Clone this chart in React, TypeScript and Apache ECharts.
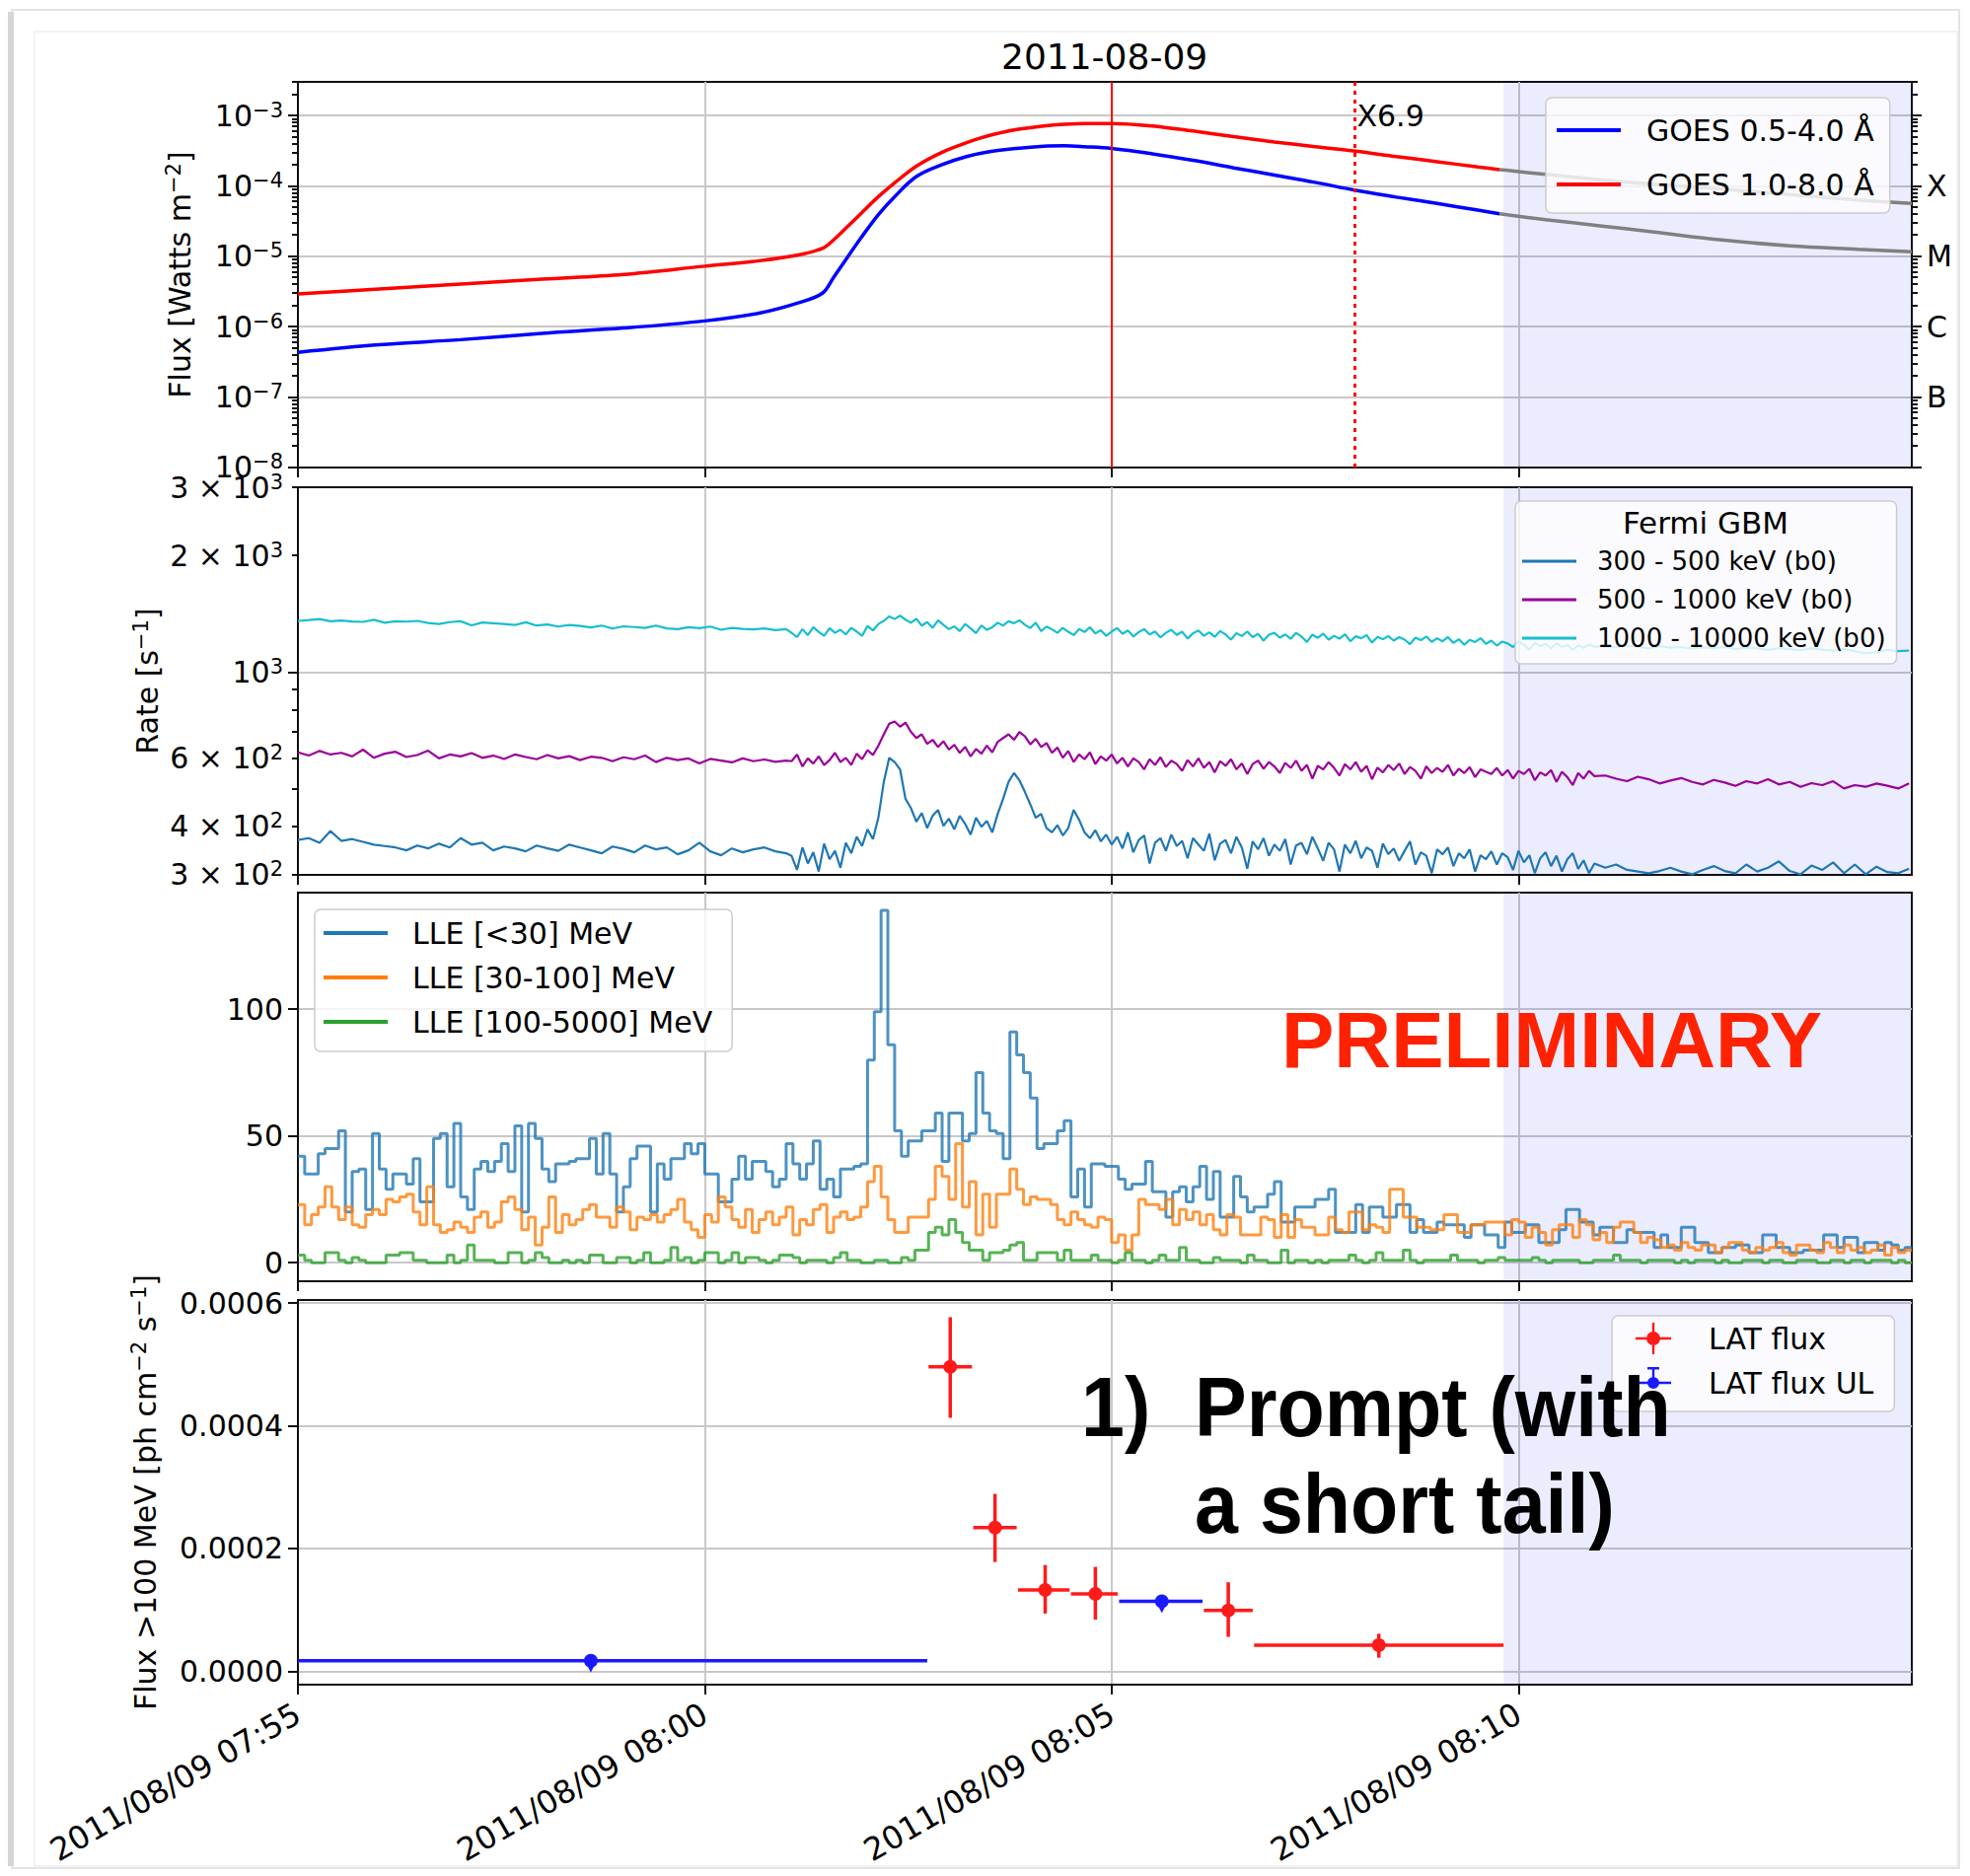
import React, { useEffect, useRef } from 'react';
import * as echarts from 'echarts';

const W = 1997;
const H = 1902;
const FONT = 'DejaVu Sans';
const HEAVY = 'Liberation Sans';

// ---------- time axis: seconds after 2011/08/09 07:55:00 ----------
const T0_MINUTES = 7 * 60 + 55;
const X_MAX = 1190;
const X_TICKS = [0, 300, 600, 900];
const SHADE_FROM = 889;
const FLARE_PEAK_TIME = 600;
const FLARE_CLASS_TIME = 779;
const FLARE_CLASS = 'X6.9';

// ---------- panel 1: GOES X-ray flux (W m^-2) ----------
const goesTimes = [0, 60, 120, 180, 240, 300, 340, 370, 387, 395, 405, 415, 428, 440, 456, 475, 493, 510, 530, 550, 565, 580, 600, 630, 660, 690, 720, 750, 780, 810, 840, 870, 886];
const goesShort = [4.3e-7, 5.5e-7, 6.5e-7, 8.0e-7, 9.5e-7, 1.2e-6, 1.55e-6, 2.2e-6, 3.0e-6, 5.0e-6, 9.5e-6, 1.8e-5, 3.9e-5, 7.0e-5, 1.35e-4, 2.0e-4, 2.6e-4, 3.05e-4, 3.4e-4, 3.65e-4, 3.7e-4, 3.6e-4, 3.4e-4, 2.85e-4, 2.3e-4, 1.8e-4, 1.42e-4, 1.12e-4, 8.6e-5, 6.9e-5, 5.6e-5, 4.5e-5, 4.0e-5];
const goesLong = [2.9e-6, 3.4e-6, 4.0e-6, 4.7e-6, 5.5e-6, 7.2e-6, 8.6e-6, 1.05e-5, 1.3e-5, 1.7e-5, 2.6e-5, 4.0e-5, 7.0e-5, 1.1e-4, 1.9e-4, 3.0e-4, 4.1e-4, 5.2e-4, 6.3e-4, 7.1e-4, 7.5e-4, 7.7e-4, 7.7e-4, 7.1e-4, 6.0e-4, 5.0e-4, 4.2e-4, 3.6e-4, 3.1e-4, 2.6e-4, 2.2e-4, 1.85e-4, 1.7e-4];
const goesTailTimes = [886, 920, 960, 1000, 1050, 1100, 1150, 1190];
const goesShortTail = [4.0e-5, 3.3e-5, 2.7e-5, 2.2e-5, 1.7e-5, 1.4e-5, 1.25e-5, 1.15e-5];
const goesLongTail = [1.7e-4, 1.45e-4, 1.22e-4, 1.05e-4, 9.0e-5, 7.5e-5, 6.3e-5, 5.6e-5];
const goesMajorTicks = [1e-8, 1e-7, 1e-6, 1e-5, 1e-4, 1e-3];
const goesClassTicks = [1e-7, 1e-6, 1e-5, 1e-4];
const goesClassLabels = ['B', 'C', 'M', 'X'];

// ---------- panel 2: Fermi GBM rates (s^-1) ----------
const gbmEarly = { from: 0, to: 360, step: 8 };
const gbmDense = { from: 364, to: 956, step: 4 };
const gbmLate = { from: 964, to: 1188, step: 8 };
const gbmLow = [
  // early
  368, 372, 362, 388, 366, 370, 364, 358, 355, 352, 346, 356, 350, 360, 352, 372, 358, 362, 346, 354,
  350, 344, 356, 350, 345, 358, 352, 346, 340, 354, 349, 342, 356, 348, 352, 338, 346, 362, 344, 336,
  350, 342, 348, 352, 344, 340,
  // dense
  335, 308, 352, 320, 342, 305, 360, 328, 345, 312, 362, 340, 375, 355, 392, 370, 420, 520, 600, 585,
  560, 470, 445, 410, 432, 395, 425, 440, 400, 418, 392, 425, 405, 380, 420, 398, 412, 385, 430, 470,
  520, 548, 525, 490, 455, 420, 430, 395, 385, 402, 378, 395, 440, 415, 385, 372, 390, 365, 380, 358,
  375, 350, 385, 342, 368, 378, 320, 362, 372, 345, 380, 355, 366, 330, 372, 358, 345, 382, 326, 360,
  368, 340, 375, 352, 310, 365, 348, 372, 335, 358, 345, 370, 318, 356, 362, 338, 375, 350, 325, 362,
  348, 305, 358, 340, 366, 330, 352, 345, 312, 360, 338, 350, 325, 345, 365, 318, 342, 335, 302, 348,
  338, 352, 315, 340, 330, 348, 305, 336, 328, 344, 318, 340, 332, 308, 345, 322, 336, 302, 330, 342,
  315, 335, 305, 328, 340, 310, 326, 302, 320,
  // late
  312, 318, 308, 305, 302, 306, 312, 305, 300, 308, 315, 306, 302, 318, 305, 312, 324, 306, 300, 316,
  308, 322, 302, 318, 300, 314, 304, 302, 310,
];
const gbmMid = [
  620, 608, 625, 612, 618, 605, 630, 600, 615, 622, 603, 610, 626, 598, 612, 605, 617, 600, 608, 596,
  612, 603, 595, 610, 598, 606, 592, 604, 600, 588, 602, 595, 608, 585, 600, 592, 598, 580, 596, 590,
  584, 598, 588, 594, 586, 590,
  588, 612, 570, 598, 580, 605, 575, 592, 618, 585, 600, 575, 615, 595, 628, 610, 645, 690, 735, 745,
  722, 740, 700, 675, 690, 652, 668, 640, 662, 630, 648, 618, 640, 605, 632, 615, 645, 620, 660, 675,
  690, 668, 700, 682, 650, 672, 640, 655, 618, 638, 600, 625, 585, 612, 595, 620, 578, 605, 590, 612,
  580, 600, 570, 598, 585, 560, 595, 575, 602, 568, 590, 578, 555, 592, 570, 598, 565, 585, 550, 588,
  572, 595, 560, 580, 545, 578, 590, 562, 585, 570, 548, 582, 565, 590, 555, 575, 530, 572, 560, 585,
  565, 540, 578, 560, 585, 552, 572, 528, 566, 550, 575, 558, 580, 545, 568, 555, 530, 570, 548, 565,
  552, 575, 540, 562, 548, 568, 535, 560, 552, 545, 565, 540, 558, 530, 555, 545, 562, 525, 550, 540,
  558, 520, 552, 535, 510, 548, 530, 555, 538,
  540, 530, 522, 536, 528, 515, 524, 532, 520, 512, 526, 518, 508, 522, 515, 528, 512, 520, 505, 516,
  510, 522, 500, 510, 505, 515, 508, 500, 515,
];
const gbmHigh = [
  1355, 1362, 1370, 1352, 1358, 1350, 1347, 1364, 1340, 1352, 1349, 1355, 1338, 1330, 1345, 1352, 1320, 1342, 1336, 1330,
  1322, 1344, 1318, 1326, 1310, 1322, 1315, 1303, 1318, 1295, 1312, 1306, 1300, 1318, 1296, 1290, 1305, 1298, 1310, 1285,
  1300, 1292, 1288, 1296, 1282, 1290,
  1262, 1230, 1290, 1245, 1305, 1270, 1240, 1298, 1262, 1285, 1250, 1300, 1272, 1240, 1315, 1280, 1330, 1355, 1392, 1370,
  1398, 1365, 1340, 1372, 1318, 1345, 1300, 1360, 1322, 1290, 1312, 1275, 1330, 1296, 1260, 1318, 1285, 1305, 1340, 1318,
  1352, 1336, 1360, 1325, 1298, 1340, 1275, 1310, 1288, 1262, 1300, 1270, 1245, 1292, 1268, 1305, 1258, 1282, 1240, 1272,
  1298, 1255, 1280, 1235, 1268, 1290, 1250, 1272, 1228, 1262, 1285, 1246, 1270, 1220, 1258, 1280, 1240, 1266, 1232, 1275,
  1250, 1212, 1260, 1238, 1272, 1230, 1255, 1205, 1248, 1262, 1226, 1250, 1218, 1262, 1235, 1195, 1248, 1225, 1256, 1212,
  1240, 1218, 1252, 1200, 1236, 1222, 1245, 1190, 1232, 1215, 1238, 1205, 1230, 1212, 1180, 1226, 1208, 1235, 1196, 1222,
  1200, 1230, 1188, 1215, 1176, 1210, 1195, 1222, 1182, 1205, 1170, 1198, 1185, 1160, 1200, 1176, 1142, 1190, 1165, 1182,
  1150, 1186, 1160, 1175, 1140, 1170, 1155, 1178, 1162,
  1165, 1158, 1170, 1162, 1150, 1166, 1155, 1160, 1148, 1157, 1152, 1160, 1145, 1155, 1150, 1140, 1152, 1146, 1138, 1150,
  1142, 1135, 1148, 1130, 1118, 1126, 1140, 1132, 1136,
];
const gbmLabelValues = [300, 400, 600, 1000, 2000, 3000];
const gbmLabelMantissa = ['3 × ', '4 × ', '6 × ', '', '2 × ', '3 × '];
const gbmLabelExponent = ['2', '2', '2', '3', '3', '3'];
const gbmMajorTicks = [1000];
const gbmMinorTicks = [300, 400, 500, 600, 700, 800, 900, 2000, 3000];

// ---------- panel 3: LAT LLE counts, 5 s bins ----------
const lleBinWidth = 5;
const lleLow = [
  42, 35, 35, 43, 45, 45, 52, 20, 36, 37, 21, 51, 37, 29, 35, 35, 31, 41, 24, 24,
  49, 51, 30, 55, 26, 21, 37, 40, 36, 40, 47, 36, 54, 20, 55, 49, 37, 32, 39, 39,
  40, 41, 41, 49, 35, 51, 35, 20, 30, 41, 46, 46, 20, 39, 33, 41, 41, 47, 43, 47,
  35, 35, 24, 24, 33, 42, 33, 40, 40, 36, 30, 33, 47, 39, 33, 39, 48, 29, 33, 26,
  37, 37, 38, 39, 80, 99, 139, 86, 52, 42, 48, 48, 52, 52, 59, 40, 59, 59, 48, 51,
  75, 59, 52, 51, 41, 91, 82, 75, 65, 45, 47, 47, 52, 56, 26, 37, 22, 39, 39, 38,
  38, 33, 29, 31, 31, 40, 28, 28, 18, 28, 30, 24, 30, 38, 25, 36, 18, 18, 34, 26,
  20, 22, 22, 27, 32, 16, 16, 22, 22, 22, 25, 25, 29, 12, 12, 12, 23, 12, 22, 22,
  18, 18, 23, 23, 12, 17, 12, 12, 16, 15, 15, 15, 10, 15, 15, 11, 11, 6, 16, 12,
  12, 15, 15, 8, 8, 8, 13, 21, 21, 16, 16, 11, 14, 14, 8, 8, 13, 12, 12, 12,
  6, 11, 6, 6, 14, 14, 8, 8, 4, 4, 6, 6, 7, 7, 4, 4, 11, 11, 6, 6,
  4, 4, 5, 5, 5, 11, 11, 6, 10, 10, 4, 8, 8, 5, 8, 7, 5, 6,
];
const lleMid = [
  23, 15, 19, 22, 30, 22, 17, 22, 15, 14, 19, 21, 19, 25, 24, 26, 27, 20, 15, 30,
  15, 12, 13, 16, 14, 12, 18, 20, 14, 16, 24, 26, 21, 13, 18, 7, 14, 26, 12, 19,
  15, 17, 21, 23, 18, 18, 14, 22, 20, 13, 18, 17, 19, 16, 19, 21, 25, 16, 13, 10,
  19, 16, 26, 22, 17, 14, 21, 12, 17, 20, 15, 18, 22, 11, 17, 15, 21, 23, 12, 18,
  20, 17, 18, 22, 32, 38, 26, 17, 12, 12, 18, 18, 18, 25, 38, 34, 25, 47, 22, 32,
  11, 27, 14, 27, 27, 37, 29, 23, 26, 25, 25, 23, 17, 15, 20, 17, 15, 14, 18, 17,
  8, 11, 5, 11, 25, 23, 23, 21, 25, 15, 21, 17, 20, 15, 19, 13, 11, 19, 18, 11,
  11, 11, 18, 17, 10, 19, 10, 17, 14, 14, 11, 11, 18, 13, 12, 20, 20, 13, 15, 14,
  12, 29, 29, 18, 18, 14, 14, 13, 13, 19, 19, 12, 12, 15, 15, 16, 16, 16, 11, 17,
  16, 10, 14, 12, 7, 13, 15, 15, 10, 17, 15, 9, 12, 8, 14, 16, 16, 12, 8, 10,
  9, 6, 7, 5, 8, 6, 5, 7, 7, 4, 6, 8, 8, 5, 4, 6, 5, 6, 8, 4,
  3, 7, 7, 5, 4, 8, 6, 4, 7, 5, 6, 4, 5, 7, 3, 6, 4, 5,
];
const lleHigh = [
  3, 1, 0, 0, 4, 4, 1, 0, 2, 1, 0, 0, 0, 3, 3, 4, 4, 1, 1, 0,
  0, 0, 3, 0, 1, 7, 1, 1, 1, 0, 0, 4, 4, 0, 1, 4, 2, 0, 0, 1,
  0, 1, 0, 3, 3, 0, 0, 2, 2, 0, 1, 4, 0, 0, 1, 6, 1, 2, 0, 1,
  4, 4, 0, 1, 4, 0, 2, 2, 1, 0, 1, 3, 3, 2, 0, 1, 1, 1, 0, 2,
  4, 1, 1, 0, 0, 1, 1, 0, 0, 2, 1, 5, 5, 12, 14, 11, 17, 12, 8, 5,
  5, 1, 4, 4, 5, 7, 8, 1, 1, 4, 4, 4, 1, 5, 1, 1, 1, 3, 1, 1,
  0, 1, 4, 1, 1, 0, 1, 3, 1, 1, 6, 1, 1, 0, 0, 2, 1, 1, 1, 0,
  3, 1, 1, 0, 0, 5, 0, 1, 1, 0, 1, 0, 1, 1, 1, 3, 1, 0, 1, 4,
  1, 1, 1, 5, 1, 0, 1, 1, 1, 1, 3, 1, 1, 1, 0, 1, 1, 2, 1, 1,
  1, 1, 2, 1, 0, 1, 1, 1, 1, 0, 0, 1, 1, 1, 3, 1, 1, 1, 0, 1,
  1, 1, 1, 0, 1, 0, 1, 1, 1, 0, 1, 0, 0, 1, 1, 1, 0, 1, 1, 0,
  0, 1, 1, 1, 0, 0, 1, 1, 0, 1, 1, 0, 1, 1, 1, 0, 1, 0,
];
const lleTicks = [0, 50, 100];

// ---------- panel 4: LAT flux > 100 MeV (ph cm^-2 s^-1) ----------
// [time, flux, binStart, binEnd, fluxLow, fluxHigh]
const latFlux = [
  [481, 4.96e-4, 465, 497, 4.13e-4, 5.77e-4],
  [514, 2.34e-4, 498, 530, 1.78e-4, 2.89e-4],
  [551, 1.325e-4, 531, 569, 0.94e-4, 1.73e-4],
  [588, 1.26e-4, 570, 604.5, 0.84e-4, 1.70e-4],
  [686, 0.99e-4, 668, 704, 0.56e-4, 1.45e-4],
  [797, 0.425e-4, 705, 889, 0.22e-4, 0.61e-4],
];
const latUpperLimits = [
  [216, 1.7e-5, 0, 464, 1.7e-5, 1.7e-5],
  [637, 1.14e-4, 605.5, 667, 1.14e-4, 1.14e-4],
];
const latTicks = [0, 0.0002, 0.0004, 0.0006];

// ---------- helpers ----------
const pad2 = (n: number) => (n < 10 ? '0' : '') + n;
const fmtTime = (s: number) => {
  const tot = T0_MINUTES + Math.round(s / 60);
  return `2011/08/09 ${pad2(Math.floor(tot / 60))}:${pad2(tot % 60)}`;
};
const cadence = (c: { from: number; to: number; step: number }) => {
  const out: number[] = [];
  for (let t = c.from; t <= c.to + 1e-9; t += c.step) out.push(t);
  return out;
};
const zip = (xs: number[], ys: number[]) => xs.map((x, i) => [x, ys[i]]);
const gbmTimes = [...cadence(gbmEarly), ...cadence(gbmDense), ...cadence(gbmLate)];
const stepData = (vals: number[]) => {
  const d = vals.map((v, i) => [i * lleBinWidth, v]);
  d.push([X_MAX, vals[vals.length - 1]]);
  return d;
};
const minorLogTicks = (lo: number, hi: number, maxV: number) => {
  const out: number[] = [];
  for (let e = lo; e <= hi; e++) for (let m = 2; m <= 9; m++) {
    const v = m * Math.pow(10, e);
    if (v <= maxV) out.push(v);
  }
  return out;
};
const minusSign = (n: number) => (n < 0 ? '\u2212' + Math.abs(n) : String(n));

const BLACK = '#111111';
const GRID_COLOR = '#c8c8c8';
const SHADE = 'rgba(0,0,255,0.075)';
const GOES_MIN = 9.9e-9;
const GOES_MAX = 3.0e-3;
const GBM_MIN = 299;
const GBM_MAX = 3001;

const supRich = {
  b: { fontSize: 30, fontFamily: FONT, color: '#000', lineHeight: 32 },
  s: { fontSize: 21, fontFamily: FONT, color: '#000', verticalAlign: 'top', lineHeight: 21 },
};
const tickStyle = (len: number, values: number[]) => ({ show: true, inside: false, length: len, customValues: values, lineStyle: { color: BLACK, width: 2 } });
const axisLineOn = { show: true, onZero: false, lineStyle: { color: BLACK, width: 2 } };
const axisLineOff = { show: false, onZero: false };
const labelBase = { color: '#000', fontSize: 30, fontFamily: FONT, margin: 15 };
const nameStyle = { color: '#000', fontSize: 30, fontFamily: FONT, lineHeight: 34, rich: { s: { fontSize: 21, fontFamily: FONT, color: '#000', verticalAlign: 'top', lineHeight: 21 } } };
const gridLine = { show: true, lineStyle: { color: GRID_COLOR, width: 2 } };
const shadeArea = { silent: true, itemStyle: { color: SHADE }, data: [[{ xAxis: SHADE_FROM }, { xAxis: X_MAX }]] };

function errorBars(color: string, upperLimit: boolean) {
  return (params: any, api: any) => {
    const x = api.value(0), y = api.value(1), x0 = api.value(2), x1 = api.value(3), y0 = api.value(4), y1 = api.value(5);
    const c = api.coord([x, y]);
    const l = api.coord([x0, y]);
    const r = api.coord([x1, y]);
    const t = api.coord([x, y1]);
    const b = api.coord([x, y0]);
    const children: any[] = [
      { type: 'line', shape: { x1: l[0], y1: l[1], x2: r[0], y2: r[1] }, style: { stroke: color, lineWidth: 3.5 } },
      { type: 'line', shape: { x1: t[0], y1: t[1], x2: b[0], y2: b[1] }, style: { stroke: color, lineWidth: 3.5 } },
      { type: 'circle', shape: { cx: c[0], cy: c[1], r: 7 }, style: { fill: color } },
    ];
    if (upperLimit) {
      children.push({ type: 'polygon', shape: { points: [[c[0] - 5, c[1] + 2], [c[0] + 5, c[1] + 2], [c[0], c[1] + 12]] }, style: { fill: color } });
    }
    return { type: 'group', children };
  };
}

function buildOption(): any {
  const xAxes = [0, 1, 2, 3].map((gi) => ({
    type: 'value', gridIndex: gi, min: 0, max: X_MAX,
    axisLine: axisLineOn,
    axisTick: tickStyle(10, X_TICKS),
    axisLabel: { ...labelBase, fontSize: 32, show: gi === 3, customValues: X_TICKS, formatter: fmtTime, rotate: 30, margin: 27 },
    splitLine: gridLine,
  }));

  const goesMinor = minorLogTicks(-8, -3, GOES_MAX);
  const yAxes = [
    { gridIndex: 0, type: 'log', min: GOES_MIN, max: GOES_MAX, position: 'left', axisLine: axisLineOn,
      axisTick: tickStyle(10, goesMajorTicks),
      axisLabel: { ...labelBase, customValues: goesMajorTicks, rich: supRich,
        formatter: (v: number) => `{b|10}{s|${minusSign(Math.round(Math.log10(v)))}}` },
      splitLine: gridLine,
      name: 'Flux [Watts m{s|\u22122}]', nameLocation: 'middle', nameGap: 103, nameRotate: 90, nameTextStyle: nameStyle, nameMoveOverlap: false },
    { gridIndex: 0, type: 'log', min: GOES_MIN, max: GOES_MAX, position: 'left', axisLine: axisLineOff,
      axisTick: tickStyle(6, goesMinor), axisLabel: { show: false }, splitLine: { show: false } },
    { gridIndex: 0, type: 'log', min: GOES_MIN, max: GOES_MAX, position: 'right', axisLine: axisLineOn,
      axisTick: tickStyle(10, goesMajorTicks),
      axisLabel: { ...labelBase, customValues: goesClassTicks, formatter: (v: number) => goesClassLabels[Math.round(Math.log10(v)) + 7] },
      splitLine: { show: false } },
    { gridIndex: 0, type: 'log', min: GOES_MIN, max: GOES_MAX, position: 'right', axisLine: axisLineOff,
      axisTick: tickStyle(6, goesMinor), axisLabel: { show: false }, splitLine: { show: false } },
    { gridIndex: 1, type: 'log', min: GBM_MIN, max: GBM_MAX, position: 'left', axisLine: axisLineOn,
      axisTick: tickStyle(10, gbmMajorTicks),
      axisLabel: { ...labelBase, customValues: gbmLabelValues, rich: supRich,
        formatter: (v: number) => {
          const i = gbmLabelValues.indexOf(Math.round(v));
          return i < 0 ? '' : `{b|${gbmLabelMantissa[i]}10}{s|${gbmLabelExponent[i]}}`;
        } },
      splitLine: gridLine,
      name: 'Rate [s{s|\u22121}]', nameLocation: 'middle', nameGap: 136, nameRotate: 90, nameTextStyle: nameStyle, nameMoveOverlap: false },
    { gridIndex: 1, type: 'log', min: GBM_MIN, max: GBM_MAX, position: 'left', axisLine: axisLineOff,
      axisTick: tickStyle(6, gbmMinorTicks), axisLabel: { show: false }, splitLine: { show: false } },
    { gridIndex: 2, type: 'value', min: -7.3, max: 146, position: 'left', axisLine: axisLineOn,
      axisTick: tickStyle(10, lleTicks),
      axisLabel: { ...labelBase, customValues: lleTicks },
      splitLine: gridLine },
    { gridIndex: 3, type: 'value', min: -0.0000219, max: 0.000605, position: 'left', axisLine: axisLineOn,
      axisTick: tickStyle(10, latTicks),
      axisLabel: { ...labelBase, customValues: latTicks, formatter: (v: number) => v.toFixed(4) },
      splitLine: gridLine,
      name: 'Flux >100 MeV [ph cm{s|\u22122} s{s|\u22121}]', nameLocation: 'middle', nameGap: 138, nameRotate: 90, nameTextStyle: nameStyle, nameMoveOverlap: false },
  ];

  const lineCommon = { type: 'line', showSymbol: false, symbol: 'none', silent: true, emphasis: { disabled: true } };

  const series: any[] = [
    { ...lineCommon, name: 'GOES 0.5-4.0 Å', xAxisIndex: 0, yAxisIndex: 0, data: zip(goesTimes, goesShort), color: '#0000ff',
      lineStyle: { width: 3.5 }, smooth: 0.35, markArea: shadeArea },
    { ...lineCommon, name: 'GOES 1.0-8.0 Å', xAxisIndex: 0, yAxisIndex: 0, data: zip(goesTimes, goesLong), color: '#ff0000',
      lineStyle: { width: 3.5 }, smooth: 0.35,
      markLine: { silent: true, symbol: ['none', 'none'], label: { show: false },
        data: [
          { xAxis: FLARE_PEAK_TIME, lineStyle: { color: '#ff0000', width: 2, type: 'solid' } },
          { xAxis: FLARE_CLASS_TIME, lineStyle: { color: '#ff0000', width: 3, type: [4, 5] } },
        ] },
      markPoint: { silent: true, data: [{ coord: [FLARE_CLASS_TIME, 1e-3], symbol: 'rect', symbolSize: [1, 1], itemStyle: { color: 'rgba(0,0,0,0)' },
        label: { show: true, position: 'right', distance: 2, formatter: FLARE_CLASS, color: '#000', fontSize: 30, fontFamily: FONT } }] } },
    { ...lineCommon, name: 'goes-short-after', xAxisIndex: 0, yAxisIndex: 0, data: zip(goesTailTimes, goesShortTail), color: '#808080',
      lineStyle: { width: 3.5 }, smooth: 0.35 },
    { ...lineCommon, name: 'goes-long-after', xAxisIndex: 0, yAxisIndex: 0, data: zip(goesTailTimes, goesLongTail), color: '#808080',
      lineStyle: { width: 3.5 }, smooth: 0.35 },

    { ...lineCommon, name: '300 - 500 keV (b0)', xAxisIndex: 1, yAxisIndex: 4, data: zip(gbmTimes, gbmLow), color: '#1f77b4',
      lineStyle: { width: 2.2 }, markArea: shadeArea },
    { ...lineCommon, name: '500 - 1000 keV (b0)', xAxisIndex: 1, yAxisIndex: 4, data: zip(gbmTimes, gbmMid), color: '#990099',
      lineStyle: { width: 2.2 } },
    { ...lineCommon, name: '1000 - 10000 keV (b0)', xAxisIndex: 1, yAxisIndex: 4, data: zip(gbmTimes, gbmHigh), color: '#17becf',
      lineStyle: { width: 2.2 } },

    { ...lineCommon, name: 'LLE [<30] MeV', xAxisIndex: 2, yAxisIndex: 6, data: stepData(lleLow), step: 'end', color: '#1f77b4',
      lineStyle: { width: 3, opacity: 0.8 }, markArea: shadeArea },
    { ...lineCommon, name: 'LLE [30-100] MeV', xAxisIndex: 2, yAxisIndex: 6, data: stepData(lleMid), step: 'end', color: '#ff7f0e',
      lineStyle: { width: 3, opacity: 0.8 } },
    { ...lineCommon, name: 'LLE [100-5000] MeV', xAxisIndex: 2, yAxisIndex: 6, data: stepData(lleHigh), step: 'end', color: '#2ca02c',
      lineStyle: { width: 3, opacity: 0.8 } },

    { ...lineCommon, name: 'lat-shade', xAxisIndex: 3, yAxisIndex: 7, data: [], markArea: shadeArea },
    { type: 'custom', name: 'LAT flux', xAxisIndex: 3, yAxisIndex: 7, silent: true, data: latFlux,
      dimensions: ['t', 'f', 't0', 't1', 'f0', 'f1'], encode: { x: [0, 2, 3], y: [1, 4, 5] },
      itemStyle: { color: '#ff1a1a' }, renderItem: errorBars('#ff1a1a', false) },
    { type: 'custom', name: 'LAT flux UL', xAxisIndex: 3, yAxisIndex: 7, silent: true, data: latUpperLimits,
      dimensions: ['t', 'f', 't0', 't1', 'f0', 'f1'], encode: { x: [0, 2, 3], y: [1, 4, 5] },
      itemStyle: { color: '#1a1aff' }, renderItem: errorBars('#1a1aff', true) },
  ];

  const legendBox = { orient: 'vertical', selectedMode: false, backgroundColor: 'rgba(255,255,255,0.8)', borderColor: '#cccccc',
    borderWidth: 1.5, borderRadius: 6, itemStyle: { borderWidth: 0 }, z: 4 };
  const legend = [
    { ...legendBox, data: ['GOES 0.5-4.0 Å', 'GOES 1.0-8.0 Å'], left: 1567, top: 99, padding: [18, 16, 14, 11],
      itemWidth: 65, itemHeight: 4, itemGap: 25, icon: 'rect',
      textStyle: { fontSize: 30, color: '#000', fontFamily: FONT, padding: [0, 0, 0, 21] } },
    { ...legendBox, data: ['300 - 500 keV (b0)', '500 - 1000 keV (b0)', '1000 - 10000 keV (b0)'], left: 1536, top: 508,
      padding: [48, 11, 13, 7], itemWidth: 55, itemHeight: 3, itemGap: 13, icon: 'rect',
      textStyle: { fontSize: 26, color: '#000', fontFamily: FONT, padding: [0, 0, 0, 16] } },
    { ...legendBox, data: ['LLE [<30] MeV', 'LLE [30-100] MeV', 'LLE [100-5000] MeV'], left: 319, top: 922,
      padding: [9, 20, 15, 9], itemWidth: 65, itemHeight: 4, itemGap: 15, icon: 'rect',
      textStyle: { fontSize: 30, color: '#000', fontFamily: FONT, padding: [0, 0, 0, 20] } },
    { ...legendBox, left: 1634, top: 1334, padding: [7, 21, 13, 24], itemWidth: 36, itemHeight: 32, itemGap: 13,
      data: [
        { name: 'LAT flux', icon: 'path://M16.8,0H19.2V32H16.8Z M0,14.8H36V17.2H0Z M25,16A7,7,0,1,1,11,16A7,7,0,1,1,25,16Z' },
        { name: 'LAT flux UL', icon: 'path://M12,0H24V2.4H12Z M16.8,0H19.2V16H16.8Z M0,14.8H36V17.2H0Z M24,16A6,6,0,1,1,12,16A6,6,0,1,1,24,16Z M18,32' },
      ],
      textStyle: { fontSize: 30, color: '#000', fontFamily: FONT, padding: [0, 0, 0, 33] } },
  ];

  const graphic = [
    { type: 'rect', silent: true, z: -10, shape: { x: 12, y: 10, width: 1974, height: 1884 }, style: { fill: 'none', stroke: '#e4e4e4', lineWidth: 2 } },
    { type: 'rect', silent: true, z: -10, shape: { x: 35, y: 32, width: 1949, height: 1860 }, style: { fill: 'none', stroke: '#f3f3f3', lineWidth: 2 } },
    { type: 'rect', silent: true, z: -10, shape: { x: 8, y: 12, width: 6, height: 1880 }, style: { fill: '#d6d6d6' } },
    { type: 'text', silent: true, z: 100, x: 1729, y: 530, style: { text: 'Fermi GBM', fill: '#000', fontSize: 31, fontFamily: FONT, align: 'center', verticalAlign: 'middle' } },
    { type: 'text', silent: true, z: 100, x: 1299, y: 1054, style: { text: 'PRELIMINARY', fill: '#ff2200', fontSize: 80, fontWeight: 'bold', fontFamily: HEAVY, align: 'left', verticalAlign: 'middle' } },
    { type: 'text', silent: true, z: 100, x: 1096, y: 1426, scaleY: 1.08, style: { text: '1)', fill: '#000', fontSize: 79, fontWeight: 'bold', fontFamily: HEAVY, align: 'left', verticalAlign: 'middle' } },
    { type: 'text', silent: true, z: 100, x: 1211, y: 1426, scaleY: 1.08, style: { text: 'Prompt (with', fill: '#000', fontSize: 79, fontWeight: 'bold', fontFamily: HEAVY, align: 'left', verticalAlign: 'middle' } },
    { type: 'text', silent: true, z: 100, x: 1211, y: 1524, scaleY: 1.08, style: { text: 'a short tail)', fill: '#000', fontSize: 79, fontWeight: 'bold', fontFamily: HEAVY, align: 'left', verticalAlign: 'middle' } },
  ];

  const gridBase = { show: true, borderColor: BLACK, borderWidth: 2, backgroundColor: 'transparent', containLabel: false, outerBoundsMode: 'none' };

  return {
    animation: false,
    backgroundColor: '#ffffff',
    textStyle: { fontFamily: FONT },
    title: { text: '2011-08-09', left: 1015, top: 39, padding: 0, textStyle: { fontSize: 36, fontWeight: 'normal', color: '#000', fontFamily: FONT } },
    grid: [
      { ...gridBase, left: 302, top: 83, width: 1636, height: 391 },
      { ...gridBase, left: 302, top: 494, width: 1636, height: 393 },
      { ...gridBase, left: 302, top: 905, width: 1636, height: 394 },
      { ...gridBase, left: 302, top: 1318, width: 1636, height: 390 },
    ],
    xAxis: xAxes,
    yAxis: yAxes,
    legend,
    series,
    graphic,
  };
}

export default function App() {
  const ref = useRef<HTMLDivElement>(null);
  useEffect(() => {
    document.body.style.margin = '0';
    const chart = echarts.init(ref.current as HTMLDivElement, null, { renderer: 'svg', width: W, height: H });
    chart.setOption(buildOption());
    return () => chart.dispose();
  }, []);
  return <div ref={ref} style={{ width: W, height: H }} />;
}
